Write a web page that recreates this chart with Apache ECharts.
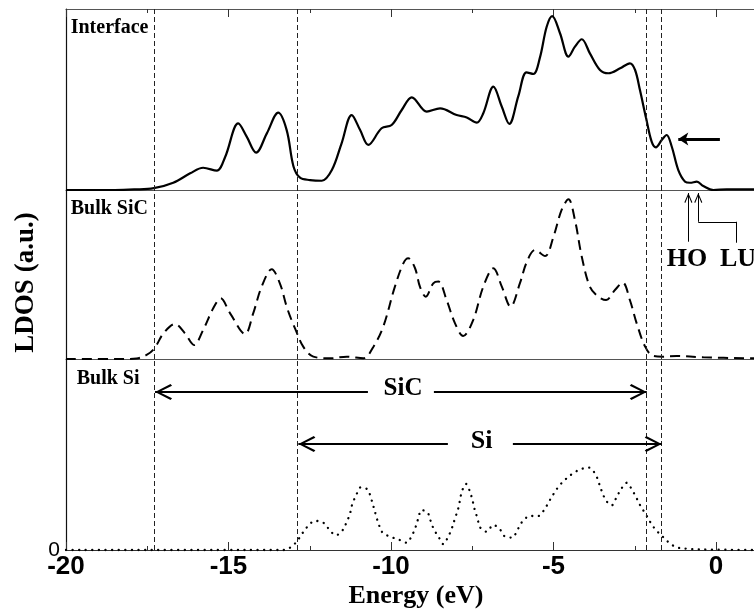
<!DOCTYPE html>
<html><head><meta charset="utf-8">
<script src="https://cdn.jsdelivr.net/npm/echarts@6/dist/echarts.min.js"></script>
<style>html,body{margin:0;padding:0;background:#fff}#c{width:754px;height:614px}</style>
</head><body><div id="c"></div>
<script>
// ---- data (energy in eV, LDOS in arbitrary units, each panel normalised to its height) ----
const interfaceE = [-20, -18.5, -17.9, -17.3, -16.7, -16.18, -15.78, -15.36, -15.1, -14.70, -14.44, -14.15, -13.82, -13.47, -13.21, -13.0, -12.8, -12.49, -12.13, -11.82, -11.52, -11.21, -10.95, -10.70, -10.29, -9.98, -9.67, -9.36, -8.90, -8.49, -7.98, -7.67, -7.36, -7.16, -6.85, -6.59, -6.36, -6.08, -5.83, -5.62, -5.42, -5.21, -5.04, -4.80, -4.54, -4.34, -4.13, -3.88, -3.57, -3.31, -2.95, -2.65, -2.49, -2.34, -2.15, -1.98, -1.85, -1.67, -1.52, -1.36, -1.16, -0.95, -0.80, -0.59, -0.39, -0.08, 0.33, 1.2];
const interfaceV = [0, 0, 0.003, 0.01, 0.04, 0.092, 0.123, 0.107, 0.184, 0.368, 0.295, 0.206, 0.313, 0.427, 0.331, 0.13, 0.068, 0.055, 0.051, 0.11, 0.258, 0.414, 0.331, 0.249, 0.341, 0.359, 0.442, 0.512, 0.433, 0.451, 0.414, 0.401, 0.372, 0.424, 0.571, 0.46, 0.365, 0.52, 0.65, 0.641, 0.73, 0.902, 0.961, 0.866, 0.737, 0.792, 0.833, 0.755, 0.663, 0.645, 0.672, 0.70, 0.663, 0.552, 0.396, 0.267, 0.236, 0.276, 0.304, 0.239, 0.11, 0.046, 0.04, 0.046, 0.022, 0.0, 0.004, 0.004];

const sicE = [-20, -18.2, -17.83, -17.52, -17.28, -17.0, -16.65, -16.34, -16.06, -15.78, -15.47, -15.24, -14.95, -14.49, -14.24, -13.98, -13.67, -13.42, -13.21, -13.06, -12.95, -12.7, -12.39, -11.88, -11.36, -10.85, -10.54, -10.24, -9.88, -9.62, -9.47, -9.26, -9.11, -8.93, -8.70, -8.54, -8.29, -8.03, -7.78, -7.47, -7.16, -6.85, -6.59, -6.32, -6.03, -5.83, -5.57, -5.26, -5.0, -4.75, -4.54, -4.34, -4.13, -3.88, -3.62, -3.38, -3.11, -2.87, -2.65, -2.44, -2.18, -1.93, -1.62, -1.21, -0.39, 1.2];
const sicV = [0, 0, 0.003, 0.024, 0.063, 0.152, 0.207, 0.152, 0.083, 0.172, 0.30, 0.359, 0.27, 0.148, 0.27, 0.428, 0.531, 0.448, 0.31, 0.23, 0.18, 0.073, 0.014, 0.004, 0.014, 0.004, 0.073, 0.191, 0.428, 0.566, 0.596, 0.537, 0.428, 0.369, 0.448, 0.458, 0.349, 0.211, 0.136, 0.231, 0.428, 0.537, 0.428, 0.31, 0.45, 0.57, 0.645, 0.609, 0.724, 0.882, 0.945, 0.822, 0.605, 0.428, 0.369, 0.349, 0.408, 0.452, 0.349, 0.211, 0.073, 0.018, 0.014, 0.018, 0.01, 0.004];

const siE = [-20, -13.3, -13.11, -12.9, -12.75, -12.57, -12.34, -12.1, -11.9, -11.70, -11.5, -11.36, -11.26, -11.19, -11.08, -10.93, -10.73, -10.62, -10.46, -10.38, -10.26, -10.03, -9.78, -9.52, -9.36, -9.24, -9.16, -9.06, -8.88, -8.78, -8.68, -8.54, -8.39, -8.24, -8.13, -8.03, -7.93, -7.82, -7.69, -7.57, -7.49, -7.42, -7.34, -7.26, -7.06, -6.85, -6.65, -6.47, -6.27, -6.11, -5.96, -5.72, -5.47, -5.29, -5.14, -5.0, -4.83, -4.63, -4.41, -4.15, -3.90, -3.70, -3.60, -3.50, -3.38, -3.21, -3.06, -2.92, -2.75, -2.58, -2.44, -2.31, -2.16, -2.01, -1.85, -1.64, -1.44, -1.21, -0.90, -0.5, 1.2];
const siV = [0, 0, 0.012, 0.044, 0.082, 0.122, 0.152, 0.145, 0.108, 0.077, 0.101, 0.148, 0.192, 0.241, 0.283, 0.328, 0.318, 0.274, 0.18, 0.136, 0.091, 0.07, 0.056, 0.038, 0.075, 0.122, 0.166, 0.209, 0.197, 0.152, 0.108, 0.07, 0.031, 0.07, 0.113, 0.166, 0.218, 0.305, 0.346, 0.305, 0.258, 0.209, 0.166, 0.119, 0.096, 0.131, 0.108, 0.068, 0.065, 0.105, 0.148, 0.178, 0.178, 0.209, 0.253, 0.293, 0.335, 0.37, 0.40, 0.424, 0.431, 0.393, 0.349, 0.302, 0.258, 0.234, 0.276, 0.319, 0.352, 0.314, 0.27, 0.227, 0.187, 0.143, 0.105, 0.07, 0.038, 0.014, 0.007, 0.003, 0];

// band-edge guide lines (eV)
const edgeLines = [-17.28, -12.9, -2.15, -1.67];
// tick settings
const xMin = -20, xMax = 5, xStep = 5;
const panelNames = ['Interface', 'Bulk SiC', 'Bulk Si'];

// ---- chart ----
const zip = (a, b) => a.map((x, i) => [x, b[i]]);
const chart = echarts.init(document.getElementById('c'), null, {renderer: 'canvas'});

const SERIF = '"Liberation Serif", "Times New Roman", serif';
const SANS = '"Liberation Sans", Arial, sans-serif';
const CHEV = 'path://M8,0 L16,15.3 L14.3,16.8 L8,4.2 L1.7,16.8 L0,15.3 Z';
const SMALLCHEV = 'path://M4,0 L8,9 L7.1,9.8 L4,2.4 L0.9,9.8 L0,9 Z';
const FILLARROW = 'path://M6.5,0 L13,10 L6.5,7.5 L0,10 Z';

const gridL = 66, gridW = 812.5;
const grids = [
  {left: gridL, width: gridW, top: 9, height: 181, outerBoundsMode: 'none', containLabel: false},
  {left: gridL, width: gridW, top: 190, height: 169, outerBoundsMode: 'none', containLabel: false},
  {left: gridL, width: gridW, top: 359, height: 191, outerBoundsMode: 'none', containLabel: false}
];

function xAx(grid, pos, opts) {
  return Object.assign({
    type: 'value', gridIndex: grid, position: pos, min: xMin, max: xMax, interval: xStep,
    axisLine: {show: true, onZero: false, lineStyle: {color: '#555', width: 1.2}},
    axisTick: {show: false}, minorTick: {show: false},
    axisLabel: {show: false}, splitLine: {show: false}
  }, opts);
}
function yAx(grid, opts) {
  return Object.assign({
    type: 'value', gridIndex: grid, min: 0, max: 1, interval: 1,
    axisLine: {show: true, onZero: false, lineStyle: {color: '#111', width: 1.2}},
    axisTick: {show: false}, axisLabel: {show: false}, splitLine: {show: false}
  }, opts);
}

const vLines = edgeLines.map(e => ({xAxis: e}));
const vLineStyle = {type: [5, 3], width: 1, color: '#222'};

function arrowSeg(from, to, sym, size, width) {
  return [
    {coord: from, symbol: 'none', lineStyle: {type: 'solid', width: width, color: '#000'}},
    {coord: to, symbol: sym, symbolSize: size, symbolOffset: [0, size[1] / 2]}
  ];
}

const option = {
  animation: false,
  backgroundColor: '#fff',
  grid: grids,
  xAxis: [
    xAx(0, 'top', {axisTick: {show: true, inside: true, length: 8, lineStyle: {color: '#333'}},
                   minorTick: {show: true, splitNumber: 2, length: 4, lineStyle: {color: '#333'}}}),
    xAx(0, 'bottom'),
    xAx(1, 'bottom'),
    xAx(2, 'bottom', {
      axisLine: {show: true, onZero: false, lineStyle: {color: '#333', width: 1.2}},
      axisTick: {show: true, inside: true, length: 8, lineStyle: {color: '#333'}},
      minorTick: {show: true, splitNumber: 2, length: 4, lineStyle: {color: '#333'}},
      axisLabel: {show: true, margin: 4, color: '#000', fontFamily: SANS, fontWeight: 'bold', fontSize: 26}
    })
  ],
  yAxis: [
    yAx(0), yAx(1),
    yAx(2, {axisLabel: {show: true, margin: 6, color: '#000', fontFamily: SANS, fontSize: 21,
            formatter: v => (v === 0 ? '0' : '')}})
  ],
  series: [
    {
      type: 'line', xAxisIndex: 0, yAxisIndex: 0, data: zip(interfaceE, interfaceV),
      symbol: 'none', smooth: 0.35, clip: false, silent: true,
      lineStyle: {color: '#000', width: 2.2},
      markLine: {
        silent: true, symbol: 'none', label: {show: false}, lineStyle: vLineStyle,
        data: vLines.concat([arrowSeg([0.12, 0.282], [-1.16, 0.282], FILLARROW, [13, 10], 3)])
      }
    },
    {
      type: 'line', xAxisIndex: 2, yAxisIndex: 1, data: zip(sicE, sicV),
      symbol: 'none', smooth: 0.35, clip: false, silent: true,
      lineStyle: {color: '#000', width: 2, type: [10, 6]},
      markLine: {
        silent: true, symbol: 'none', label: {show: false}, lineStyle: vLineStyle,
        data: vLines.concat([
          arrowSeg([-0.85, 0.694], [-0.85, 0.982], SMALLCHEV, [8, 10], 1),
          arrowSeg([-0.545, 0.812], [-0.545, 0.982], SMALLCHEV, [8, 10], 1),
          arrowSeg([-0.545, 0.812], [0.637, 0.812], 'none', [1, 1], 1),
          arrowSeg([0.637, 0.812], [0.637, 0.688], 'none', [1, 1], 1)
        ])
      }
    },
    {
      type: 'line', xAxisIndex: 3, yAxisIndex: 2, data: zip(siE, siV),
      symbol: 'none', smooth: 0.35, clip: false, silent: true,
      lineStyle: {color: '#000', width: 2.3, type: [0.1, 6.5], cap: 'round'},
      markLine: {
        silent: true, symbol: 'none', label: {show: false}, lineStyle: vLineStyle,
        data: vLines.concat([
          arrowSeg([-10.71, 0.827], [-17.26, 0.827], CHEV, [16, 17], 2),
          arrowSeg([-8.68, 0.827], [-2.13, 0.827], CHEV, [16, 17], 2),
          arrowSeg([-8.25, 0.555], [-12.85, 0.555], CHEV, [16, 17], 2),
          arrowSeg([-6.25, 0.555], [-1.67, 0.555], CHEV, [16, 17], 2)
        ])
      }
    }
  ],
  graphic: [
    {type: 'text', left: 70.7, top: 18, style: {text: panelNames[0], font: 'bold 20px ' + SERIF, fill: '#000'}},
    {type: 'text', left: 70.7, top: 199, style: {text: panelNames[1], font: 'bold 20px ' + SERIF, fill: '#000'}},
    {type: 'text', left: 76.7, top: 369, style: {text: panelNames[2], font: 'bold 20px ' + SERIF, fill: '#000'}},
    {type: 'text', x: 403, y: 389, style: {text: 'SiC', font: 'bold 25px ' + SERIF, fill: '#000', align: 'center', verticalAlign: 'middle'}},
    {type: 'text', x: 481.7, y: 441, style: {text: 'Si', font: 'bold 26px ' + SERIF, fill: '#000', align: 'center', verticalAlign: 'middle'}},
    {type: 'text', x: 687, y: 259, style: {text: 'HO', font: 'bold 26px ' + SERIF, fill: '#000', align: 'center', verticalAlign: 'middle'}},
    {type: 'text', x: 720, y: 259, style: {text: 'LU', font: 'bold 26px ' + SERIF, fill: '#000', align: 'left', verticalAlign: 'middle'}},
    {type: 'text', x: 416, y: 596, style: {text: 'Energy (eV)', font: 'bold 26px ' + SERIF, fill: '#000', align: 'center', verticalAlign: 'middle'}},
    {type: 'text', x: 26, y: 282.5, rotation: Math.PI / 2, style: {text: 'LDOS (a.u.)', font: 'bold 27px ' + SERIF, fill: '#000', align: 'center', verticalAlign: 'middle'}}
  ]
};
chart.setOption(option);
</script>
</body></html>
